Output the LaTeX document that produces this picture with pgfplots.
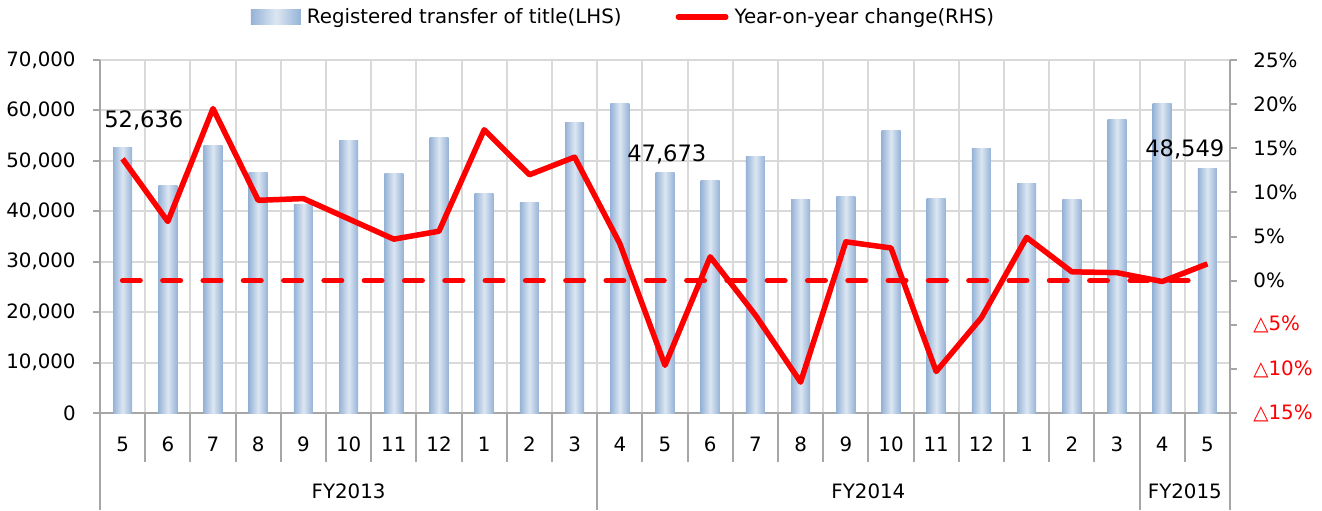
\documentclass[border=0pt]{standalone}
\usepackage{fontspec}
\setmainfont{DejaVu Sans}
\usepackage{pgfplots}
\pgfplotsset{compat=1.18}
\definecolor{bardark}{HTML}{95B3D7}
\definecolor{barlight}{HTML}{DCE6F2}
\definecolor{gridc}{HTML}{D9D9D9}
\definecolor{axisc}{HTML}{A6A6A6}
\pgfplotsset{barsty/.style={ybar, bar width=9.5pt, bar shift=0pt, draw=none,
  left color=bardark, right color=bardark, middle color=barlight}}
\begin{document}
\begin{tikzpicture}[font=\fontsize{9.9pt}{12pt}\selectfont]
\useasboundingbox (0,0) rectangle (661pt,255pt);
\begin{axis}[
  at={(50pt,48.5pt)}, anchor=south west, scale only axis,
  width=565pt, height=176.5pt,
  xmin=-0.5, xmax=24.5, ymin=0, ymax=70000,
  axis x line*=bottom, axis y line*=left,
  axis line style={draw=axisc, line width=1pt},
  clip=false,
  xtick={0,...,24},
  xticklabels={5,6,7,8,9,10,11,12,1,2,3,4,5,6,7,8,9,10,11,12,1,2,3,4,5},
  minor xtick={-0.5,0.5,...,24.5},
  xminorgrids, ymajorgrids,
  major grid style={draw=gridc, line width=1pt},
  minor grid style={draw=gridc, line width=1pt},
  ytick={0,10000,20000,30000,40000,50000,60000,70000},
  scaled y ticks=false,
  /pgf/number format/assume math mode=true,
  /pgf/number format/1000 sep={,},
  tick align=outside,
  major tick length=3.5pt,
  minor tick length=24.5pt,
  tick style={draw=axisc, line width=1pt},
  major x tick style={draw=none},
  xticklabel style={anchor=center, inner sep=0pt, yshift=-12pt},
  yticklabel style={anchor=east, inner sep=0pt, xshift=-8.5pt},
]
\addplot[barsty] coordinates {(0,52636)};
\addplot[barsty] coordinates {(1,45120)};
\addplot[barsty] coordinates {(2,53080)};
\addplot[barsty] coordinates {(3,47690)};
\addplot[barsty] coordinates {(4,41360)};
\addplot[barsty] coordinates {(5,54010)};
\addplot[barsty] coordinates {(6,47490)};
\addplot[barsty] coordinates {(7,54670)};
\addplot[barsty] coordinates {(8,43540)};
\addplot[barsty] coordinates {(9,41820)};
\addplot[barsty] coordinates {(10,57570)};
\addplot[barsty] coordinates {(11,61320)};
\addplot[barsty] coordinates {(12,47673)};
\addplot[barsty] coordinates {(13,46110)};
\addplot[barsty] coordinates {(14,50850)};
\addplot[barsty] coordinates {(15,42350)};
\addplot[barsty] coordinates {(16,42940)};
\addplot[barsty] coordinates {(17,55990)};
\addplot[barsty] coordinates {(18,42550)};
\addplot[barsty] coordinates {(19,52430)};
\addplot[barsty] coordinates {(20,45510)};
\addplot[barsty] coordinates {(21,42350)};
\addplot[barsty] coordinates {(22,58160)};
\addplot[barsty] coordinates {(23,61320)};
\addplot[barsty] coordinates {(24,48549)};
\pgfplotsinvokeforeach{-0.5,10.5,22.5,24.5}{
  \draw[axisc, line width=1pt] (axis cs:#1,0) -- ([yshift=-48.5pt]axis cs:#1,0);
}
\node[yshift=-39pt] at (axis cs:5,0) {FY2013};
\node[yshift=-39pt] at (axis cs:16.5,0) {FY2014};
\node[yshift=-39pt] at (axis cs:23.5,0) {FY2015};
\node[font=\fontsize{11.3pt}{13pt}\selectfont] at (axis cs:0.47,58060) {52,636};
\node[font=\fontsize{11.3pt}{13pt}\selectfont] at (axis cs:12.04,51240) {47,673};
\node[font=\fontsize{11.3pt}{13pt}\selectfont] at (axis cs:23.5,52230) {48,549};
\end{axis}
\begin{axis}[
  at={(50pt,48.5pt)}, anchor=south west, scale only axis,
  width=565pt, height=176.5pt,
  xmin=-0.5, xmax=24.5, ymin=-15, ymax=25,
  axis y line*=right, axis x line=none,
  axis line style={draw=axisc, line width=1pt},
  clip=false,
  ytick={-15,-10,-5,0,5,10,15,20,25},
  yticklabels={{\color{red}△15\%},{\color{red}△10\%},{\color{red}△5\%},0\%,5\%,10\%,15\%,20\%,25\%},
  tick align=outside,
  major tick length=3.5pt,
  tick style={draw=axisc, line width=1pt},
  yticklabel style={anchor=west, inner sep=0pt, xshift=8pt},
  legend columns=2,
  legend style={at={(0.1336,1.1218)}, anchor=west, draw=none, fill=none,
    inner sep=0pt, outer sep=0pt,
    nodes={inner sep=0pt, anchor=west},
    /tikz/every odd column/.style={column sep=3pt},
    /tikz/every even column/.style={column sep=27pt}},
]
\addlegendimage{legend image code/.code={\shade[draw=none, left color=bardark, right color=bardark, middle color=barlight] (0pt,-3.65pt) rectangle (25pt,3.65pt);}}
\addlegendimage{legend image code/.code={\draw[red, line width=2.75pt, line cap=round] (1.4pt,0pt) -- (25.1pt,0pt);}}
\addplot[red, line width=2.75pt, line cap=round, dash pattern=on 8.75pt off 11.4pt, forget plot]
 coordinates {(0,0) (24,0)};
\addplot[red, line width=2.75pt, line join=round, forget plot]
 coordinates {
 (0,13.8) (1,6.7) (2,19.5) (3,9.1) (4,9.3) (5,7.0) (6,4.7) (7,5.6) (8,17.1)
 (9,12.0) (10,14.0) (11,4.2) (12,-9.6) (13,2.7) (14,-3.9) (15,-11.5) (16,4.4)
 (17,3.7) (18,-10.3) (19,-4.2) (20,4.9) (21,1.0) (22,0.9) (23,-0.1) (24,1.9)
 };
\legend{Registered transfer of title(LHS), Year-on-year change(RHS)}
\end{axis}
\end{tikzpicture}
\end{document}
